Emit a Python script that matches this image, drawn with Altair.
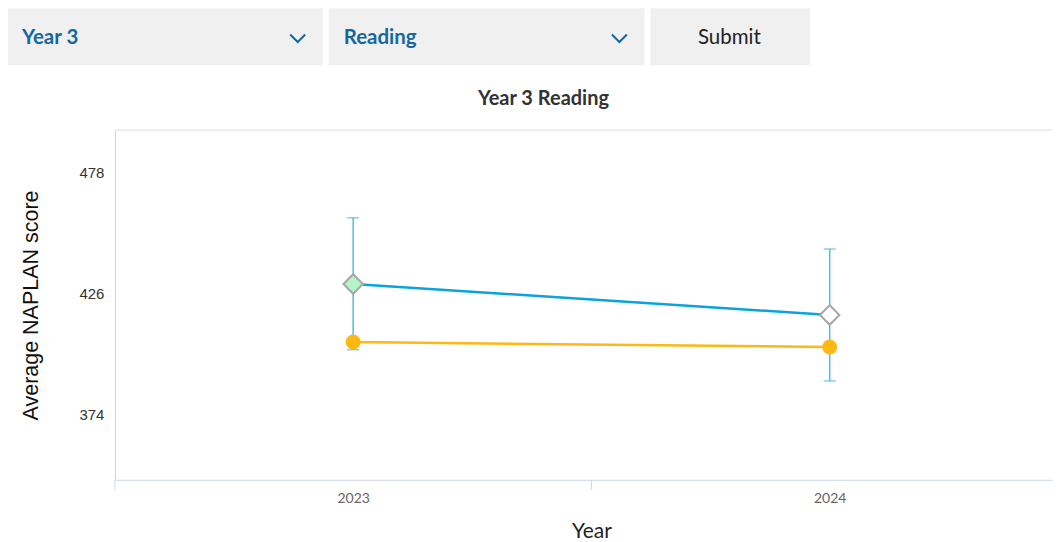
import altair as alt
import pandas as pd

# ---- data ----
years = [2023, 2024]
school_mean = [430.0, 416.7]
school_low = [401.8, 388.4]
school_high = [458.4, 445.0]
comparison_mean = [405.1, 403.0]
school_status = ["above", "similar"]
y_ticks = [374, 426, 478]
y_domain = [346, 496]
x_labels = [2023, 2024]
x_boundaries = [2022.5, 2023.5]
x_domain = [2022.5, 2024.4665]

title_text = "Year 3 Reading"
control_year = "Year 3"
control_domain = "Reading"
control_submit = "Submit"

df = pd.DataFrame({
    "Year": years,
    "school": school_mean,
    "low": school_low,
    "high": school_high,
    "comp": comparison_mean,
    "status": school_status,
})
bounds_df = pd.DataFrame({"b": x_boundaries})

W, H = 938, 350
BLUE = "#0aa3de"
ERR = "#4fbbe9"
ORANGE = "#fdb813"
AXIS_BLUE = "#ccd6eb"
CTRL_TEXT = "#17679f"

x_scale = alt.Scale(domain=x_domain, nice=False, zero=False)
x_enc = alt.X(
    "Year:Q",
    title="Year",
    scale=x_scale,
    axis=alt.Axis(
        values=x_labels, format="d", ticks=False, labelOverlap=False,
        labelAngle=0, labelFlush=False,
        domainColor=AXIS_BLUE, labelColor="#666666", labelFont="Lato",
        labelFontSize=14, labelPadding=12, titleFont="Lato", titleFontSize=21,
        titleFontWeight="normal", titleColor="#222222", titlePadding=15,
        titleX=477, titleAlign="center", grid=False,
    ),
)
y_scale = alt.Scale(domain=y_domain, nice=False, zero=False)
y_axis = alt.Axis(
    values=y_ticks, grid=False, ticks=False, domainColor=AXIS_BLUE,
    labelFont="Liberation Sans", labelFontSize=15, labelColor="#333333",
    labelPadding=11, title="Average NAPLAN score", titleFont="Liberation Sans",
    titleFontSize=21.5, titleFontWeight="normal", titleColor="#111111", titlePadding=36,
)

base = alt.Chart(df)

err_rule = base.mark_rule(color=ERR, strokeWidth=1.5).encode(
    x=x_enc, y=alt.Y("low:Q", scale=y_scale, axis=y_axis), y2="high:Q")
cap_low = base.mark_tick(color=ERR, orient="horizontal", size=12, thickness=1.5).encode(
    x="Year:Q", y="low:Q")
cap_high = base.mark_tick(color=ERR, orient="horizontal", size=12, thickness=1.5).encode(
    x="Year:Q", y="high:Q")
line_comp = base.mark_line(color=ORANGE, strokeWidth=2.5).encode(x="Year:Q", y="comp:Q")
line_school = base.mark_line(color=BLUE, strokeWidth=2.5).encode(x="Year:Q", y="school:Q")
pts_comp = base.mark_point(shape="circle", filled=True, color=ORANGE, opacity=1, size=225).encode(
    x="Year:Q", y="comp:Q")
pts_school = base.mark_point(shape="diamond", filled=True, opacity=1, size=380,
                             stroke="#a8a8a8", strokeWidth=2).encode(
    x="Year:Q", y="school:Q",
    fill=alt.Fill("status:N", scale=alt.Scale(domain=["above", "similar"],
                                              range=["#b3f5c8", "#ffffff"]), legend=None),
)

# category boundary ticks below the x axis
boundary_ticks = alt.Chart(bounds_df).mark_rule(color=AXIS_BLUE, strokeWidth=1).encode(
    x=alt.X("b:Q", scale=x_scale), y=alt.value(H), y2=alt.value(H + 10))

one = pd.DataFrame({"k": [0]})

# top border of the plot frame (the right side runs off the page in the reference)
top_border = alt.Chart(one).mark_rule(color="#dcdcdc", strokeWidth=1).encode(
    x=alt.value(0), x2=alt.value(W), y=alt.value(0))

# ---- decorative controls above the chart (pixel positions relative to plot) ----
def box(x0, x1):
    return alt.Chart(one).mark_rect(color="#f0f0f0").encode(
        x=alt.value(x0), x2=alt.value(x1), y=alt.value(-122), y2=alt.value(-65))

def label(text, xpos, align, color, weight):
    return alt.Chart(pd.DataFrame({"t": [text]})).mark_text(
        align=align, baseline="middle", font="Lato", fontSize=20.5,
        fontWeight=weight, color=color).encode(
        text="t:N", x=alt.value(xpos), y=alt.value(-92))

def chevron(xpos):
    return alt.Chart(one).mark_point(
        shape="M-1,-0.5L0,0.5L1,-0.5", filled=False, stroke=CTRL_TEXT,
        strokeWidth=2, opacity=1, size=225).encode(x=alt.value(xpos), y=alt.value(-92))

title_mark = alt.Chart(pd.DataFrame({"t": [title_text]})).mark_text(
    align="center", baseline="middle", font="Lato", fontSize=20,
    fontWeight="bold", color="#333333").encode(
    text="t:N", x=alt.value(429), y=alt.value(-31))

chart = alt.layer(
    box(-107, 208), box(214, 530), box(536, 696),
    label(control_year, -93, "left", CTRL_TEXT, "bold"),
    label(control_domain, 229, "left", CTRL_TEXT, "bold"),
    label(control_submit, 615, "center", "#222222", "normal"),
    chevron(183), chevron(505),
    title_mark, top_border, boundary_ticks,
    err_rule, cap_low, cap_high, line_comp, line_school, pts_comp, pts_school,
).properties(width=W, height=H, padding=0).configure_view(
    stroke="transparent", strokeWidth=0
)

chart.save("out.html", embed_options={"renderer": "svg", "actions": False})
